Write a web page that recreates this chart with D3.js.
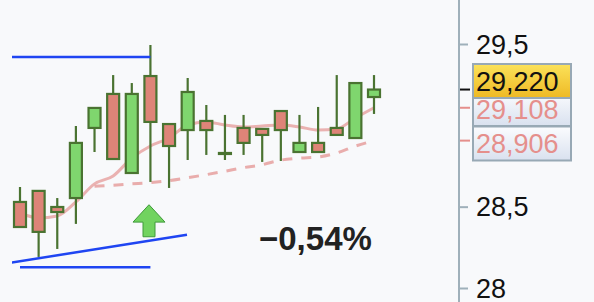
<!DOCTYPE html>
<html>
<head>
<meta charset="utf-8">
<script src="https://cdn.jsdelivr.net/npm/d3@7"></script>
<style>
  body { margin: 0; background: #f8f9fb; }
  svg { display: block; }
  .axis path, .axis line { stroke: #9fb0ba; stroke-width: 2; }
  .axis text { font-family: "Liberation Sans", Arial, sans-serif; font-size: 27px; fill: #111; }
</style>
</head>
<body>
<svg id="chart"></svg>
<script>
// candle data (oldest -> newest)
const opens  = [28.529, 28.597, 28.498, 28.553, 28.984, 29.193, 28.707, 29.303, 29.008, 28.971,
                29.027, 28.830, 28.984, 28.978, 29.088, 28.836, 28.892, 28.984, 28.922, 29.174];
const highs  = [28.621, 28.600, 28.553, 28.996, 29.107, 29.309, 29.260, 29.494, 29.010, 29.291,
                29.125, 29.064, 29.064, 28.980, 29.090, 29.064, 29.113, 29.309, 29.260, 29.309];
const lows   = [28.370, 28.191, 28.240, 28.394, 28.836, 28.793, 28.707, 28.652, 28.615, 28.787,
                28.818, 28.787, 28.818, 28.775, 28.781, 28.836, 28.836, 28.941, 28.922, 29.070];
const closes = [28.375, 28.345, 28.467, 28.892, 29.107, 28.793, 29.193, 29.021, 28.873, 29.205,
                28.971, 28.824, 28.892, 28.941, 28.971, 28.892, 28.836, 28.941, 29.260, 29.220];
// moving average (solid) and lower band (dashed)
const movingAvg = [28.461, 28.431, 28.443, 28.529, 28.640, 28.689, 28.799, 28.873, 28.922, 29.002,
                   29.021, 29.002, 28.990, 28.996, 29.002, 28.990, 28.971, 28.978, 29.045, 29.108];
const lowerBand = [null, null, null, null, 28.625, 28.632, 28.640, 28.648, 28.660, 28.678,
                   28.697, 28.718, 28.740, 28.758, 28.786, 28.798, 28.805, 28.830, 28.872, 28.906];
const tickValues = [28, 28.5, 29.5];
const changeLabel = "−0,54%";

const W = 594, H = 302;
const fmt = v => d3.format(".3f")(v).replace(".", ",");

const svg = d3.select("#chart").attr("width", W).attr("height", H);
svg.append("rect").attr("width", W).attr("height", H).attr("fill", "#f8f9fb");

const idx = d3.range(closes.length);
const x = d3.scalePoint().domain(idx).range([20, 374]);
const y = d3.scaleLinear().domain([28, 29.5]).range([288, 44]);

svg.append("clipPath").attr("id", "plot")
  .append("rect").attr("x", 12).attr("y", 0).attr("width", 446).attr("height", H);

const plot = svg.append("g").attr("clip-path", "url(#plot)");

// indicator lines
const maLine = d3.line().x(i => x(i)).y(i => y(movingAvg[i])).curve(d3.curveMonotoneX);
plot.append("path").attr("d", maLine(idx))
  .attr("fill", "none").attr("stroke", "#e59a98").attr("stroke-opacity", 0.75).attr("stroke-width", 3);

const bandLine = d3.line().defined(i => lowerBand[i] !== null)
  .x(i => x(i)).y(i => y(lowerBand[i])).curve(d3.curveMonotoneX);
plot.append("path").attr("d", bandLine(idx))
  .attr("fill", "none").attr("stroke", "#e59a98").attr("stroke-opacity", 0.8)
  .attr("stroke-width", 3).attr("stroke-dasharray", "10,9");

// candles
const bodyW = 12;
const candle = plot.selectAll(".candle").data(idx).join("g").attr("class", "candle");
candle.append("line")
  .attr("x1", i => x(i)).attr("x2", i => x(i))
  .attr("y1", i => y(highs[i])).attr("y2", i => y(lows[i]))
  .attr("stroke", "#4a7331").attr("stroke-width", 2.2);
candle.append("rect")
  .attr("x", i => x(i) - bodyW / 2)
  .attr("y", i => y(Math.max(opens[i], closes[i])))
  .attr("width", bodyW)
  .attr("height", i => Math.max(1, Math.abs(y(opens[i]) - y(closes[i]))))
  .attr("fill", i => closes[i] >= opens[i] ? "#7fd66e" : "#de8478")
  .attr("stroke", "#4a7331").attr("stroke-width", 2.2);

// drawing tools: support / resistance lines
const blue = "#1f45f2";
plot.append("line")
  .attr("x1", 0).attr("x2", x(7)).attr("y1", y(highs[7]) + 12).attr("y2", y(highs[7]) + 12)
  .attr("stroke", blue).attr("stroke-width", 2.5);
plot.append("line")
  .attr("x1", 10).attr("x2", 187).attr("y1", y(28.155)).attr("y2", y(28.327))
  .attr("stroke", blue).attr("stroke-width", 2.5);
plot.append("line")
  .attr("x1", 20).attr("x2", x(7)).attr("y1", y(28.127)).attr("y2", y(28.127))
  .attr("stroke", blue).attr("stroke-width", 2.5);

// up arrow
const ax = 149, aTop = y(28.512), aBot = y(28.315), aNeck = y(28.405);
svg.append("path")
  .attr("d", `M${ax},${aTop} L${ax + 16},${aNeck} L${ax + 6},${aNeck} L${ax + 6},${aBot}
              L${ax - 6},${aBot} L${ax - 6},${aNeck} L${ax - 16},${aNeck} Z`)
  .attr("fill", "#71d35f").attr("stroke", "#3f9a3a").attr("stroke-width", 1);

// change label
svg.append("text")
  .attr("x", 259).attr("y", 250)
  .attr("font-family", "Liberation Sans, Arial, sans-serif")
  .attr("font-weight", "bold").attr("font-size", 33).attr("fill", "#222")
  .text(changeLabel);

// price axis
const axisX = 459;
const axis = d3.axisRight(y).tickValues(tickValues).tickSize(9).tickPadding(8)
  .tickFormat(d => String(d).replace(".", ","));
svg.append("g").attr("class", "axis").attr("transform", `translate(${axisX},0)`)
  .call(axis)
  .call(g => g.select(".domain").attr("d", `M0,0V${H}`))
  .call(g => g.selectAll("text").attr("dy", "0.34em"));

// value markers on the axis
const markers = [
  { v: movingAvg[movingAvg.length - 1], cy: 109, fill: "url(#gradGrey)", text: "#e58f8c", tick: "#e58f8c" },
  { v: lowerBand[lowerBand.length - 1], cy: 143.5, fill: "url(#gradGrey)", text: "#e58f8c", tick: "#e58f8c" },
  { v: closes[closes.length - 1], cy: 81, fill: "url(#gradYellow)", text: "#111", tick: "#111" }
];
const defs = svg.append("defs");
const gy = defs.append("linearGradient").attr("id", "gradYellow").attr("x1", 0).attr("x2", 0).attr("y1", 0).attr("y2", 1);
gy.append("stop").attr("offset", 0).attr("stop-color", "#fbe25a");
gy.append("stop").attr("offset", 1).attr("stop-color", "#eeb924");
const gg = defs.append("linearGradient").attr("id", "gradGrey").attr("x1", 0).attr("x2", 0).attr("y1", 0).attr("y2", 1);
gg.append("stop").attr("offset", 0).attr("stop-color", "#fbfcfe");
gg.append("stop").attr("offset", 1).attr("stop-color", "#d9e1ef");

const mk = svg.selectAll(".marker").data(markers).join("g").attr("class", "marker");
mk.append("line")
  .attr("x1", axisX + 1).attr("x2", axisX + 11)
  .attr("y1", d => y(d.v)).attr("y2", d => y(d.v))
  .attr("stroke", d => d.tick).attr("stroke-width", 2);
mk.append("rect")
  .attr("x", 473).attr("y", d => d.cy - 17).attr("width", 98).attr("height", 34)
  .attr("fill", d => d.fill).attr("stroke", "#98a9b5").attr("stroke-width", 2);
mk.append("text")
  .attr("x", 476).attr("y", d => d.cy).attr("dy", "0.36em")
  .attr("font-family", "Liberation Sans, Arial, sans-serif").attr("font-size", 27)
  .attr("fill", d => d.text)
  .text(d => fmt(d.v));
</script>
</body>
</html>
